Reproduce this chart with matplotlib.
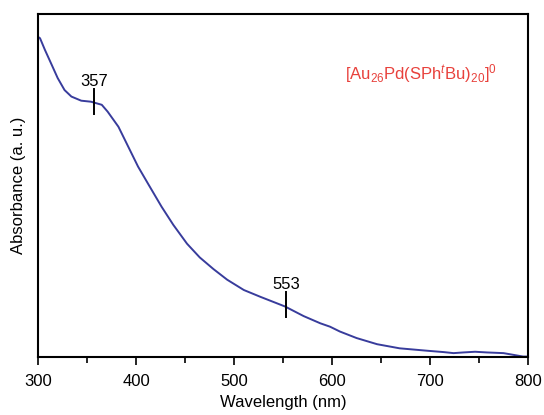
import matplotlib
matplotlib.use("Agg")
import matplotlib.pyplot as plt
from matplotlib.ticker import MultipleLocator

plt.rcParams["font.family"] = ["Liberation Sans", "DejaVu Sans"]
plt.rcParams["mathtext.fontset"] = "custom"
plt.rcParams["mathtext.rm"] = "Liberation Sans"
plt.rcParams["mathtext.it"] = "Liberation Sans:italic"

# UV-vis spectrum (arbitrary units)
wavelength = [300, 302, 307, 314, 320, 327, 334, 344, 354, 365, 371, 382, 392, 402,
              412, 426, 438, 452, 465, 479, 493, 510, 527, 552, 571, 588, 598,
              608, 625, 646, 669, 697, 714, 724, 734, 746, 758, 775, 785, 795, 800]
absorbance = [0.933, 0.929, 0.895, 0.851, 0.813, 0.778, 0.759, 0.747, 0.744, 0.735,
              0.715, 0.671, 0.613, 0.555, 0.506, 0.438, 0.385, 0.330, 0.290, 0.256,
              0.225, 0.195, 0.175, 0.147, 0.119, 0.098, 0.088, 0.074, 0.055, 0.037,
              0.025, 0.018, 0.014, 0.011, 0.013, 0.015, 0.013, 0.011, 0.006, 0.001,
              0.001]

peaks = [357, 553]
peak_abs = [0.744, 0.152]

x_ticks = [300, 400, 500, 600, 700, 800]

fig = plt.figure(figsize=(5.44, 4.15), dpi=100)
ax = fig.add_axes([0.07, 0.14, 0.9006, 0.8265])

ax.plot(wavelength, absorbance, color="#383c9c", lw=1.4,
        solid_joinstyle="round", solid_capstyle="round")

for p, a in zip(peaks, peak_abs):
    ax.plot([p, p], [a - 0.036, a + 0.036], color="black", lw=1.4)
    ax.text(p, a + 0.047, str(p), ha="center", va="baseline", fontsize=12)

ax.text(0.627, 0.81, r"[Au$_{26}$Pd(SPh$^{\mathit{t}}$Bu)$_{20}$]$^{0}$",
        transform=ax.transAxes, ha="left", va="baseline",
        color="#e8413c", fontsize=12)

ax.set_xlim(300, 800)
ax.set_ylim(0, 1.0)
ax.set_xticks(x_ticks)
ax.xaxis.set_minor_locator(MultipleLocator(50))
ax.set_yticks([])
ax.tick_params(axis="x", which="major", direction="out", length=5.5, width=1.2,
               labelsize=12, pad=7)
ax.tick_params(axis="x", which="minor", direction="out", length=4, width=1.2)
for s in ax.spines.values():
    s.set_linewidth(1.5)

ax.set_xlabel("Wavelength (nm)", fontsize=12, labelpad=4)
ax.set_ylabel("Absorbance (a. u.)", fontsize=12, labelpad=9)

fig.savefig("out.png", dpi=100)
